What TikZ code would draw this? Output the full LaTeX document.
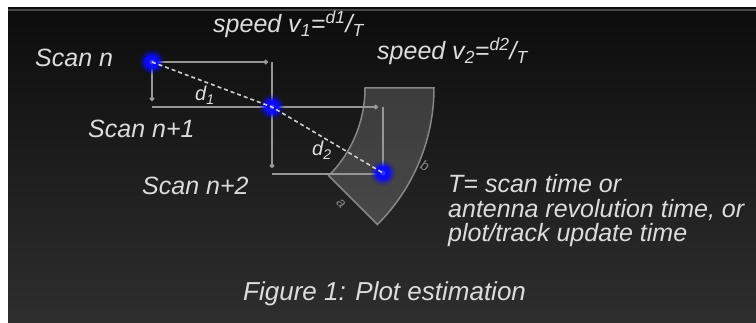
\documentclass[tikz,border=0pt]{standalone}
\usepackage{fontspec}
\setmainfont{Liberation Sans}
\usetikzlibrary{arrows.meta,calc}
\definecolor{txt}{RGB}{220,220,222}
\definecolor{lncol}{RGB}{150,150,150}
\definecolor{trk}{RGB}{205,205,205}
\definecolor{bgtop}{RGB}{13,13,13}
\definecolor{bgbot}{RGB}{46,46,46}
\definecolor{rim}{RGB}{70,70,70}
\definecolor{dotblue}{RGB}{10,10,255}
\definecolor{secedge}{RGB}{135,135,135}
\begin{document}
\begin{tikzpicture}[x=1pt,y=-1pt,
  lab/.style={text=txt, font=\fontsize{25}{24.5}\selectfont\itshape, inner sep=0pt, anchor=base west},
  figcaption/.style={text=txt, font=\fontsize{26}{26}\selectfont\itshape, inner sep=0pt, anchor=base west},
  dlab/.style={text=txt, font=\fontsize{20}{20}\selectfont\itshape, inner sep=0pt, anchor=base west},
  edgelab/.style={text=secedge, font=\fontsize{14}{14}\selectfont\itshape, inner sep=0pt},
  side/.style={draw=lncol, line width=1.3pt},
  sidearr/.style={draw=lncol, line width=1.3pt, -{Circle[length=4.5pt,fill=lncol!60!white]}},
  track/.style={draw=trk, line width=1.6pt, dash pattern=on 4pt off 3pt},
  sector/.style={draw=secedge, line width=1.5pt, fill=white, fill opacity=0.17}
]
\useasboundingbox (0,0) rectangle (756,323);
% background
\fill[white] (0,0) rectangle (756,323);
\fill[bgtop] (8,7) rectangle (756,12);
\fill[rim] (8,9) rectangle (756,12);
\shade[top color=bgtop, bottom color=bgbot] (8,12) rectangle (756,323);

% points
\coordinate (p1) at (152,62);
\coordinate (p2) at (272,107);
\coordinate (p3) at (383,173);
\coordinate (c0) at (241,88);

% range/azimuth cell
\draw[sector] ($(c0)+(0:124)$) arc[start angle=0,end angle=45,radius=124]
   -- ($(c0)+(45:193)$) arc[start angle=45,end angle=0,radius=193] -- cycle;
\node[edgelab, rotate=-45] (la) at (341,204) {a};
\node[edgelab, rotate=-25] (lb) at (425,166) {b};

% box 1
\coordinate (a1) at (268,62);
\coordinate (b1) at (152,101);
\coordinate (k1) at (272,62);
\coordinate (b2) at (272,168);
\coordinate (k2) at (152,107);
\draw[sidearr] (p1) -- (a1);
\draw[sidearr] (p1) -- (b1);
\draw[sidearr] (k1) -- (b2);
\draw[side] (k2) -- (p2);
% box 2
\coordinate (a2) at (378,107);
\coordinate (k3) at (383,107);
\coordinate (k4) at (272,174);
\coordinate (k5) at (383,174);
\draw[sidearr] (p2) -- (a2);
\draw[side] (k3) -- (k5);
\draw[side] (k4) -- (k5);

% glowing plots
\foreach \p in {p1,p2,p3}{
  \fill[dotblue, opacity=0.18] (\p) circle (12.5);
  \fill[dotblue, opacity=0.3] (\p) circle (10.5);
  \fill[dotblue, opacity=0.6] (\p) circle (8.5);
  \fill[dotblue] (\p) circle (6.5);
  \fill[blue!70!white, opacity=0.6] (\p) circle (2.5);
}

% track
\draw[track] (p1) -- (p2) -- (p3);

% labels
\node[dlab] (d1) at (195,101) {d\textsubscript{1}};
\node[dlab] (d2) at (312,156) {d\textsubscript{2}};
\node[lab] (s0) at (35,67) {Scan n};
\node[lab] (s1) at (88,138) {Scan n+1};
\node[lab] (s2) at (142,195) {Scan n+2};
\node[lab] (v1) at (213,33) {speed v\textsubscript{1}=\textsuperscript{d1}/\textsubscript{T}};
\node[lab] (v2) at (377,60) {speed v\textsubscript{2}=\textsuperscript{d2}/\textsubscript{T}};
\node[lab] (t1) at (448,193) {T= scan time or};
\node[lab] (t2) at (448,218) {antenna revolution time, or};
\node[lab] (t3) at (448,242) {plot/track update time};
\node[figcaption] (fig) at (243,301) {Figure 1: Plot estimation};
\end{tikzpicture}
\end{document}
